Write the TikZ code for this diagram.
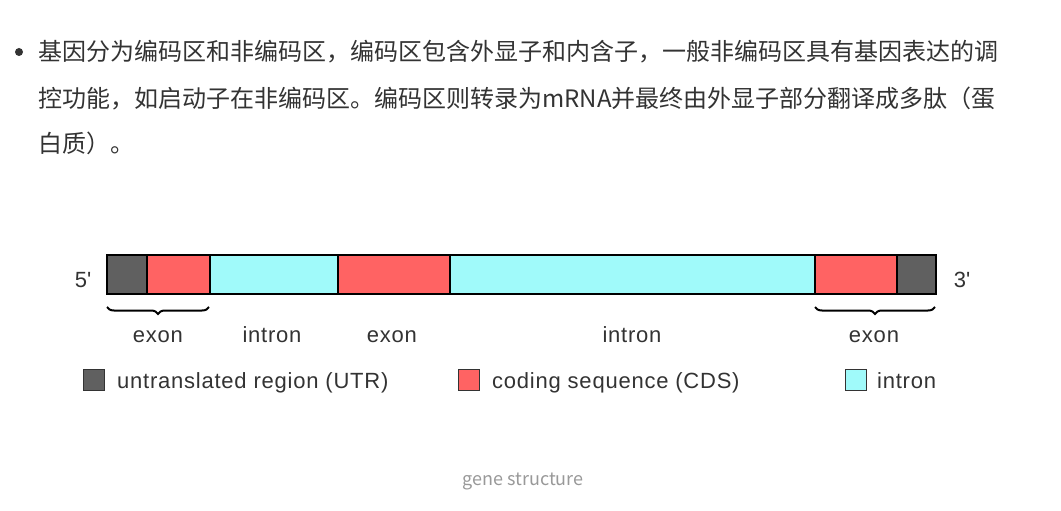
\documentclass[tikz,border=0pt]{standalone}
\usepackage{fontspec}
\setmainfont{Liberation Sans}
\newfontfamily\lblfont[LetterSpace=3.5]{Liberation Sans}
\newfontfamily\cjk{Noto Sans CJK SC}
\usetikzlibrary{decorations.pathreplacing}
\definecolor{utrgrey}{RGB}{96,96,96}
\definecolor{cdsred}{RGB}{255,99,99}
\definecolor{intcyan}{RGB}{160,250,250}
\definecolor{txt}{RGB}{51,51,51}
\definecolor{cap}{RGB}{153,153,153}
\tikzset{
  seg/.style={draw=black, line width=2pt, inner sep=0pt, minimum height=39pt, anchor=west},
  para/.style={anchor=west, inner sep=0pt, text=txt, font=\cjk\fontsize{24}{28}\selectfont},
  lbl/.style={inner sep=0pt, anchor=base, text=txt, font=\lblfont\fontsize{22}{26}\selectfont},
  key/.style={draw=black!80, line width=1.5pt, inner sep=0pt, minimum width=21pt, minimum height=21pt},
  brc/.style={decorate, decoration={brace, mirror, amplitude=7pt}, line width=2pt}
}
\begin{document}
\begin{tikzpicture}[x=1pt,y=-1pt]
\useasboundingbox[fill=white] (0,0) rectangle (1061,511);
% paragraph
\fill[txt] (19,52) circle (4pt);
\node[para] (l1) at (38,52) {基因分为编码区和非编码区，编码区包含外显子和内含子，一般非编码区具有基因表达的调};
\node[para] (l2) at (38,99) {控功能，如启动子在非编码区。编码区则转录为mRNA并最终由外显子部分翻译成多肽（蛋};
\node[para] (l3) at (38,143) {白质）。};
% gene bar
\node[seg, fill=utrgrey, minimum width=40pt] (u1) at (106,274.5) {};
\node[seg, fill=cdsred, minimum width=63pt] (c1) at (146,274.5) {};
\node[seg, fill=intcyan, minimum width=128pt] (i1) at (209,274.5) {};
\node[seg, fill=cdsred, minimum width=112pt] (c2) at (337,274.5) {};
\node[seg, fill=intcyan, minimum width=365pt] (i2) at (449,274.5) {};
\node[seg, fill=cdsred, minimum width=82pt] (c3) at (814,274.5) {};
\node[seg, fill=utrgrey, minimum width=39pt] (u2) at (896,274.5) {};
\node[lbl] (five) at (83,287) {5\textquotesingle};
\node[lbl] (three) at (962,287) {3\textquotesingle};
% braces
\coordinate (b1s) at (107,307);
\coordinate (b1e) at (209,307);
\coordinate (b2s) at (815,307);
\coordinate (b2e) at (935,307);
\draw[brc] (b1s) -- (b1e);
\draw[brc] (b2s) -- (b2e);
% labels
\node[lbl] (e1) at (158,342) {exon};
\node[lbl] (t1) at (272,342) {intron};
\node[lbl] (e2) at (392,342) {exon};
\node[lbl] (t2) at (632,342) {intron};
\node[lbl] (e3) at (874,342) {exon};
% legend
\node[key, fill=utrgrey] (k1) at (94,380) {};
\node[lbl, anchor=base west] (k1t) at (117,388) {untranslated region (UTR)};
\node[key, fill=cdsred] (k2) at (469,380) {};
\node[lbl, anchor=base west] (k2t) at (492,388) {coding sequence (CDS)};
\node[key, fill=intcyan] (k3) at (856,380) {};
\node[lbl, anchor=base west] (k3t) at (877,388) {intron};
% caption
\node[inner sep=0pt, text=cap, font=\cjk\fontsize{18}{22}\selectfont] (capt) at (523,481) {gene structure};
\end{tikzpicture}
\end{document}
